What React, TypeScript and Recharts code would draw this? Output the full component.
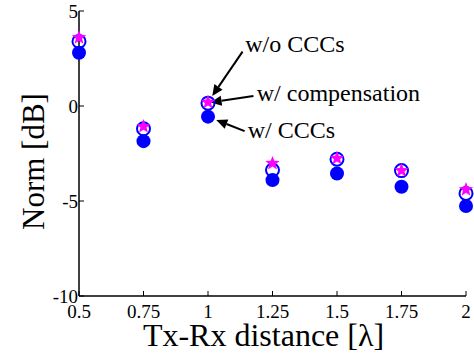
import React from 'react'
import {
  ScatterChart,
  Scatter,
  XAxis,
  YAxis,
  ReferenceLine,
  ReferenceDot,
} from 'recharts'

const distances = [0.5, 0.75, 1, 1.25, 1.5, 1.75, 2]
const withCCCs = [2.8, -1.85, -0.56, -3.9, -3.55, -4.25, -5.26]
const withoutCCCs = [3.4, -1.2, 0.15, -3.37, -2.8, -3.4, -4.6]
const withCompensation = [3.6, -1.08, 0.2, -3.02, -2.75, -3.4, -4.4]

const xTicks = [0.5, 0.75, 1, 1.25, 1.5, 1.75, 2]
const yTicks = [-10, -5, 0, 5]

// annotation texts (left edge / baseline) and arrows (tail -> head), data coords
const noteTexts = ['w/o CCCs', 'w/ compensation', 'w/ CCCs']
const noteX = [1.144, 1.189, 1.154]
const noteY = [2.86, 0.24, -1.7]
const arrowTail = [
  { x: 1.134, y: 2.86 },
  { x: 1.176, y: 0.53 },
  { x: 1.142, y: -1.32 },
]
const arrowHead = [
  { x: 1.0165, y: 0.53 },
  { x: 1.01, y: 0.19 },
  { x: 1.032, y: -0.74 },
]

const FONT = "'Liberation Serif', serif"
const BLUE = '#0000ff'
const MAGENTA = '#ff00ff'

const toPoints = (ys: number[]) => distances.map((x, i) => ({ x, y: ys[i] }))

const FilledCircle = (p: any) => <circle cx={p.cx} cy={p.cy} r={7} fill={BLUE} />
const OpenCircle = (p: any) => (
  <circle cx={p.cx} cy={p.cy} r={6.5} fill="none" stroke={BLUE} strokeWidth={2} />
)
const Star = (p: any) => {
  const pts: string[] = []
  for (let k = 0; k < 10; k++) {
    const r = k % 2 === 0 ? 7.5 : 3.2
    const a = -Math.PI / 2 + (k * Math.PI) / 5
    pts.push(`${p.cx + r * Math.cos(a)},${p.cy + r * Math.sin(a)}`)
  }
  return <polygon points={pts.join(' ')} fill={MAGENTA} />
}

const Arrow = (p: any) => {
  const { x1, y1, x2, y2 } = p
  const dx = x2 - x1
  const dy = y2 - y1
  const len = Math.sqrt(dx * dx + dy * dy) || 1
  const ux = dx / len
  const uy = dy / len
  const hl = 11
  const hw = 5
  const bx = x2 - ux * hl
  const by = y2 - uy * hl
  return (
    <g>
      <line x1={x1} y1={y1} x2={bx} y2={by} stroke="#000" strokeWidth={2} />
      <polygon
        points={`${x2},${y2} ${bx - uy * hw},${by + ux * hw} ${bx + uy * hw},${by - ux * hw}`}
        fill="#000"
      />
    </g>
  )
}

const tickStyle = { fontSize: 19, fontFamily: FONT, fill: '#000' }

export default function App() {
  return (
    <div style={{ position: 'absolute', left: 0, top: 0, background: '#fff', fontFamily: FONT }}>
      <ScatterChart
        width={474}
        height={357}
        margin={{ top: 11, right: 8, bottom: 31, left: 19 }}
        style={{ fontFamily: FONT }}
      >
        <XAxis
          dataKey="x"
          type="number"
          domain={[0.5, 2]}
          ticks={xTicks}
          height={30}
          tickSize={-5}
          tickMargin={13.5}
          tick={tickStyle}
          axisLine={{ stroke: '#000', strokeWidth: 1.5 }}
          tickLine={{ stroke: '#000' }}
          label={{
            content: ({ viewBox }: any) => (
              <text
                x={viewBox.x + viewBox.width / 2 - 9}
                y={viewBox.y + 50}
                textAnchor="middle"
                fontSize={32}
                fontFamily={FONT}
                fill="#000"
              >
                Tx-Rx distance [λ]
              </text>
            ),
          }}
        />
        <XAxis
          xAxisId="top"
          orientation="top"
          type="number"
          domain={[0.5, 2]}
          ticks={xTicks}
          height={0}
          tickSize={-5}
          tick={false}
          axisLine={{ stroke: '#000', strokeWidth: 1.5 }}
          tickLine={{ stroke: '#000' }}
        />
        <YAxis
          dataKey="y"
          type="number"
          domain={[-10, 5]}
          ticks={yTicks}
          width={60}
          tickSize={-5}
          tickMargin={6}
          tick={tickStyle}
          axisLine={{ stroke: '#000', strokeWidth: 1.5 }}
          tickLine={{ stroke: '#000' }}
          label={{
            content: ({ viewBox }: any) => {
              const cx = viewBox.x + 14
              const cy = viewBox.y + viewBox.height / 2 + 8
              return (
                <text
                  x={cx}
                  y={cy}
                  transform={`rotate(-90, ${cx}, ${cy})`}
                  textAnchor="middle"
                  dominantBaseline="central"
                  fontSize={31}
                  fontFamily={FONT}
                  fill="#000"
                >
                  Norm [dB]
                </text>
              )
            },
          }}
        />
        <YAxis
          yAxisId="right"
          orientation="right"
          type="number"
          domain={[-10, 5]}
          ticks={yTicks}
          width={0}
          tickSize={-5}
          tick={false}
          axisLine={{ stroke: '#000', strokeWidth: 1.5 }}
          tickLine={{ stroke: '#000' }}
        />
        <Scatter
          name="w/ CCCs"
          data={toPoints(withCCCs)}
          shape={FilledCircle}
          isAnimationActive={false}
        />
        <Scatter
          name="w/o CCCs"
          data={toPoints(withoutCCCs)}
          shape={OpenCircle}
          isAnimationActive={false}
        />
        <Scatter
          name="w/ compensation"
          data={toPoints(withCompensation)}
          shape={Star}
          isAnimationActive={false}
        />
        {arrowTail.map((t, i) => (
          <ReferenceLine
            key={`arrow-${i}`}
            segment={[t, arrowHead[i]]}
            shape={Arrow}
            ifOverflow="visible"
          />
        ))}
        {noteTexts.map((txt, i) => (
          <ReferenceDot
            key={`note-${i}`}
            x={noteX[i]}
            y={noteY[i]}
            ifOverflow="visible"
            shape={(p: any) => (
              <text
                x={p.cx}
                y={p.cy}
                fontSize={24}
                fontFamily={FONT}
                fill="#000"
              >
                {txt}
              </text>
            )}
          />
        ))}
      </ScatterChart>
    </div>
  )
}
